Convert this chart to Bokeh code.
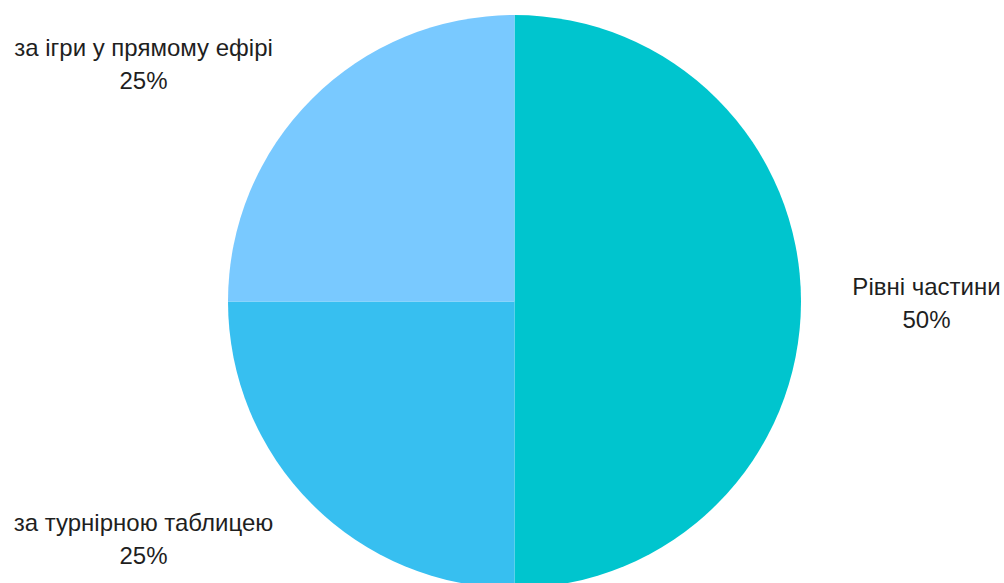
from math import pi

from bokeh.core.properties import value
from bokeh.embed import file_html
from bokeh.models import ColumnDataSource, Range1d
from bokeh.plotting import figure
from bokeh.resources import INLINE

# Slices of the prize split, clockwise from 12 o'clock
categories = ["Рівні частини", "за турнірною таблицею", "за ігри у прямому ефірі"]
shares = [50, 25, 25]
colors = ["#00C5CE", "#37BFF0", "#79C9FF"]

W, H = 1004, 583
CX, CY, R = 514, 282, 286.5

total = sum(shares)
starts, ends = [], []
acc = 0.0
for s in shares:
    a0 = pi / 2 - 2 * pi * acc / total
    acc += s
    a1 = pi / 2 - 2 * pi * acc / total
    starts.append(a0)
    ends.append(a1)

src = ColumnDataSource(dict(start=starts, end=ends, color=colors))

p = figure(width=W, height=H, output_backend="svg", toolbar_location=None,
           x_range=Range1d(0, W), y_range=Range1d(0, H), min_border=0)
p.axis.visible = False
p.grid.visible = False
p.outline_line_color = None
p.background_fill_color = "white"

p.wedge(x=CX, y=CY, radius=R, start_angle="start", end_angle="end",
        direction="clock", fill_color="color", line_color=None, source=src)

# Label anchors (name line, percent line below it)
label_pos = [(926, 297), (143, 61), (143, 536)]
names, pcts, nx, ny, px, py = [], [], [], [], [], []
for cat, s, (x, y) in zip(categories, shares, label_pos):
    names.append(cat)
    pcts.append(f"{round(100 * s / total)}%")
    nx.append(x); ny.append(y)
    px.append(x); py.append(y - 33)

font = value("Liberation Sans")
p.text(x=nx, y=ny, text=names, text_font=font, text_font_size="24px",
       text_color="#1f1f1f", text_align="center", text_baseline="middle")
p.text(x=px, y=py, text=pcts, text_font=font, text_font_size="24px",
       text_color="#1f1f1f", text_align="center", text_baseline="middle")

open("out.html", "w").write(file_html(p, INLINE))
